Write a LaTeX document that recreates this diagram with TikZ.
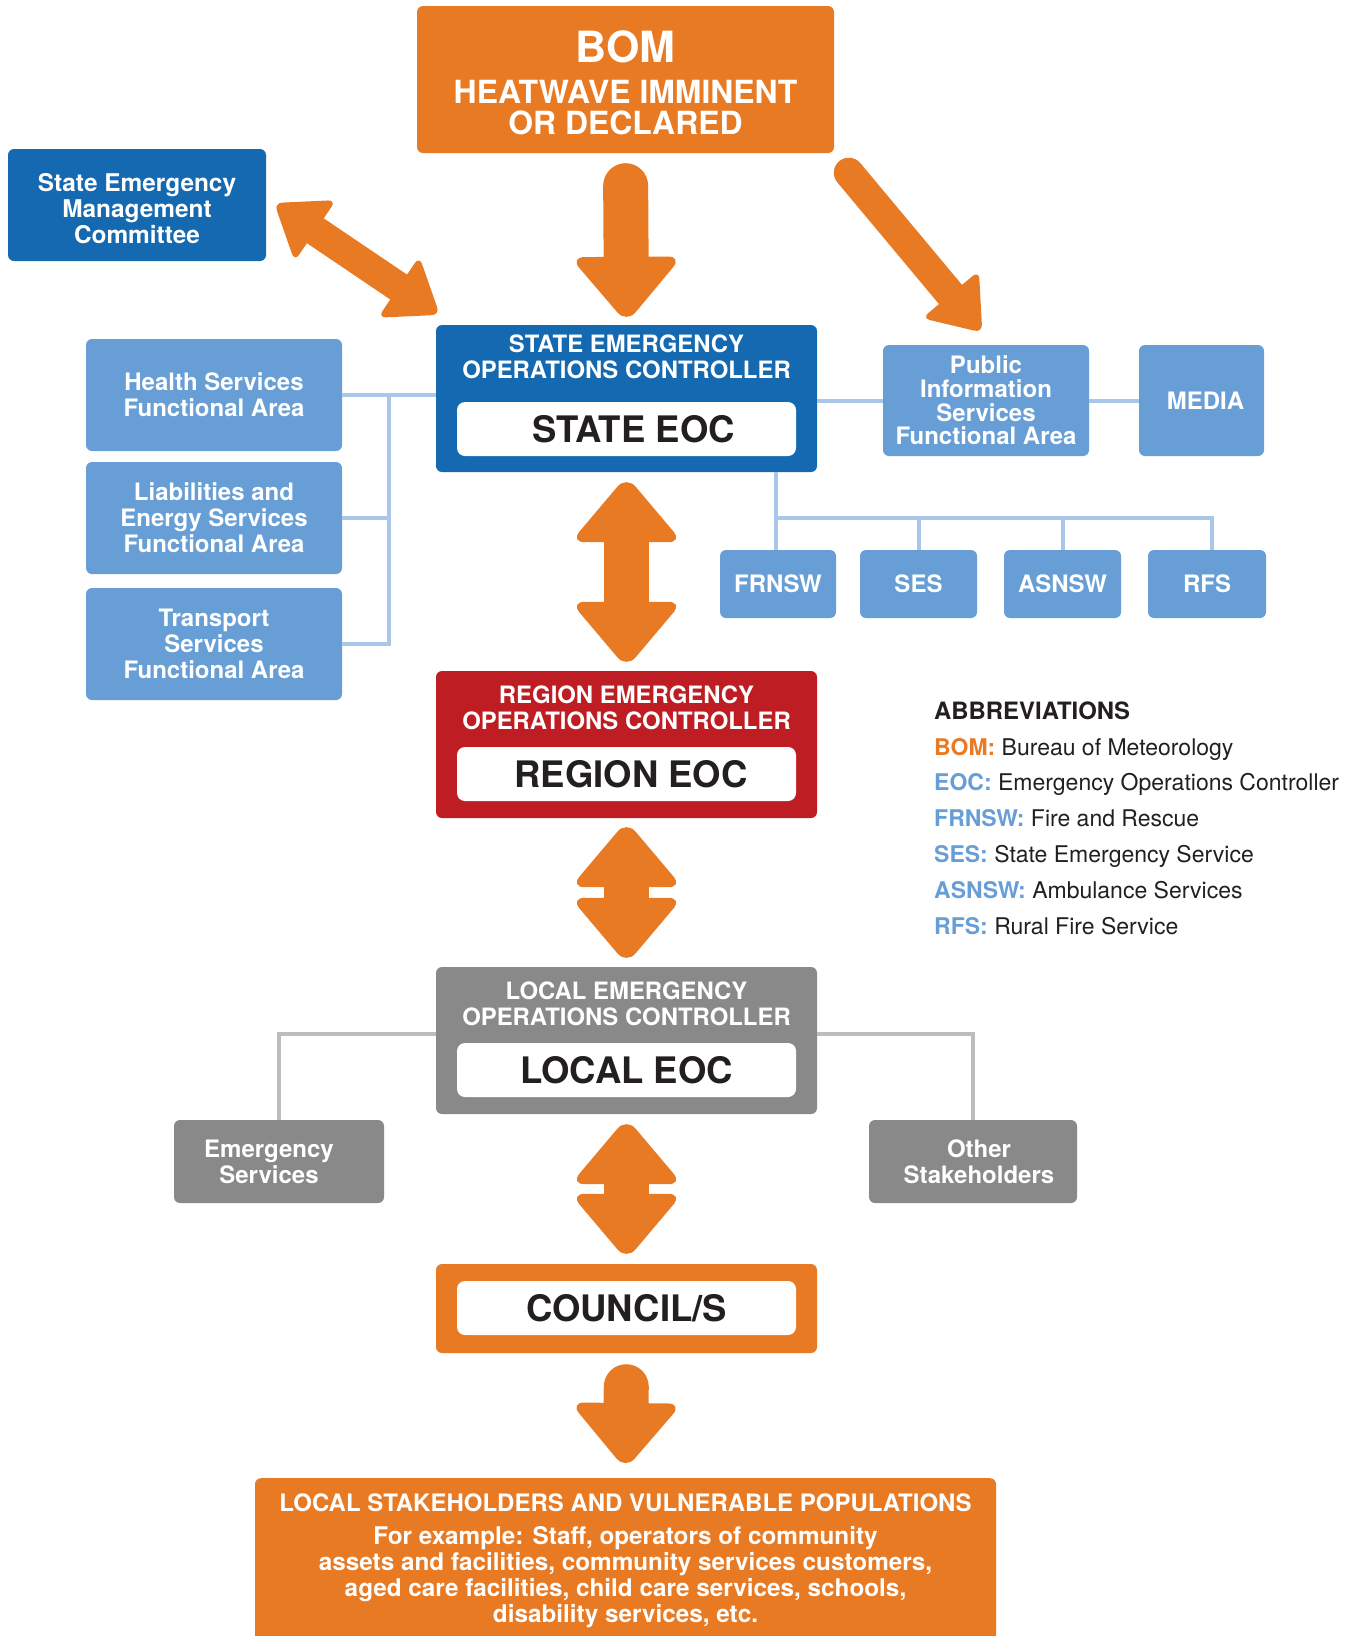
\documentclass[tikz,border=0pt]{standalone}
\usepackage{fontspec}
\setmainfont{TeX Gyre Heros}
\usetikzlibrary{calc}
\definecolor{orng}{HTML}{E87A24}
\definecolor{dblue}{HTML}{1469B0}
\definecolor{lblue}{HTML}{689ED6}
\definecolor{rred}{HTML}{BE1E23}
\definecolor{gbox}{HTML}{898989}
\definecolor{bline}{HTML}{AAC6E8}
\definecolor{gline}{HTML}{BDBDBD}
\definecolor{txt}{HTML}{231F20}
% #1 type (1 single, 2 double), #2 half shaft width, #3 half head width,
% #4 head length, #5 corner radius, #6 from, #7 to
\newcommand\fatarrow[7]{%
  \path (#6); \pgfgetlastxy{\faX}{\faY}%
  \path (#7); \pgfgetlastxy{\fbX}{\fbY}%
  \pgfmathsetmacro\faL{veclen(\fbX-\faX,\fbY-\faY)}%
  \pgfmathsetmacro\faA{atan2(\fbY-\faY,\fbX-\faX)}%
  \pgfmathsetmacro\faT{\faL+0.45*#5}%
  \pgfmathsetmacro\faB{\faL-#4}%
  \pgfmathsetmacro\faW{2*#2}%
  \pgfmathsetmacro\faS{-0.45*#5}%
  \begin{scope}[shift={(\faX,\faY)},rotate=\faA]
    \fill[orng,rounded corners=#5pt] (\faB pt,0pt) -- (\faB pt,#3pt) -- (\faT pt,0pt) -- (\faB pt,-#3pt) -- cycle;
    \ifnum#1=2
      \fill[orng,rounded corners=#5pt] (#4pt,0pt) -- (#4pt,#3pt) -- (\faS pt,0pt) -- (#4pt,-#3pt) -- cycle;
      \draw[orng,line width=\faW pt] (#4pt-2pt,0pt) -- (\faB pt+2pt,0pt);
    \else
      \draw[orng,line width=\faW pt,line cap=round] (#2pt,0pt) -- (\faB pt+2pt,0pt);
    \fi
  \end{scope}%
}
\begin{document}
\begin{tikzpicture}[x=1pt,y=-1pt,
  box/.style={rounded corners=6pt, inner sep=0pt, align=center, text=white,
    font=\bfseries\fontsize{24}{26}\selectfont},
  whitebox/.style={fill=white, rounded corners=8pt, minimum width=339pt, minimum height=54pt,
    inner sep=0pt, font=\bfseries\fontsize{36.5}{40}\selectfont, text=txt},
  title/.style={text=white, align=center, inner sep=0pt, font=\bfseries\fontsize{23.9}{26}\selectfont},
  bconn/.style={draw=bline, line width=4pt},
  gconn/.style={draw=gline, line width=4pt},
  abbr/.style={anchor=base west, inner sep=0pt, text=txt, font=\fontsize{23}{26}\selectfont}]
\useasboundingbox (0,0) rectangle (1359,1636);

% BOM
\node[box, fill=orng, minimum width=417pt, minimum height=147pt] (bom) at (625.5,79.5) {};
\node[title, font=\bfseries\fontsize{43}{44}\selectfont] (bomt) at (625.5,47) {BOM};
\node[title, font=\bfseries\fontsize{31.9}{31}\selectfont] (bomh) at (625.5,107.5) {HEATWAVE IMMINENT\\OR DECLARED};

% State Emergency Management Committee
\node[box, fill=dblue, minimum width=258pt, minimum height=112pt, font=\bfseries\fontsize{24.4}{26}\selectfont] (semc) at (137,205)
  {\rule{0pt}{25pt}State Emergency\\Management\\Committee};

% State EOC
\node[box, fill=dblue, minimum width=381pt, minimum height=147pt] (state) at (626.5,398.5) {};
\node[title] (statet) at (626.5,357) {STATE EMERGENCY\\OPERATIONS CONTROLLER};
\node[whitebox] (stateeoc) at (626.5,429) {\hspace*{14pt}STATE EOC};

% left functional areas
\node[box, fill=lblue, minimum width=256pt, minimum height=112pt] (health) at (214,395) {Health Services\\Functional Area};
\node[box, fill=lblue, minimum width=256pt, minimum height=112pt] (liab) at (214,518) {Liabilities and\\Energy Services\\Functional Area};
\node[box, fill=lblue, minimum width=256pt, minimum height=112pt] (trans) at (214,644) {Transport\\Services\\Functional Area};

% right
\node[box, fill=lblue, minimum width=206pt, minimum height=111pt, font=\bfseries\fontsize{24}{23.7}\selectfont] (pis) at (986,400.5) {Public\\Information\\Services\\Functional Area};
\node[box, fill=lblue, minimum width=125pt, minimum height=111pt] (media) at (1201.5,400.5) {\hspace*{8pt}MEDIA};

\node[box, fill=lblue, minimum width=116pt, minimum height=68pt] (frnsw) at (778,584) {FRNSW};
\node[box, fill=lblue, minimum width=117pt, minimum height=68pt] (ses) at (918.5,584) {SES};
\node[box, fill=lblue, minimum width=117pt, minimum height=68pt] (asnsw) at (1062.5,584) {ASNSW};
\node[box, fill=lblue, minimum width=118pt, minimum height=68pt] (rfs) at (1207,584) {RFS};

% Region EOC
\node[box, fill=rred, minimum width=381pt, minimum height=147pt] (region) at (626.5,744.5) {};
\node[title] (regiont) at (626.5,708) {REGION EMERGENCY\\OPERATIONS CONTROLLER};
\node[whitebox] (regioneoc) at (626.5,774) {\hspace*{9pt}REGION EOC};

% Local EOC
\node[box, fill=gbox, minimum width=381pt, minimum height=147pt] (local) at (626.5,1040.5) {};
\node[title] (localt) at (626.5,1004) {LOCAL EMERGENCY\\OPERATIONS CONTROLLER};
\node[whitebox] (localeoc) at (626.5,1070) {LOCAL EOC};

\node[box, fill=gbox, minimum width=210pt, minimum height=83pt] (es) at (279,1161.5) {Emergency\hspace*{20pt}\\Services\hspace*{20pt}};
\node[box, fill=gbox, minimum width=208pt, minimum height=83pt] (other) at (973,1161.5) {\hspace*{12pt}Other\\\hspace*{12pt}Stakeholders};

% Council
\node[box, fill=orng, minimum width=381pt, minimum height=89pt] (council) at (626.5,1308.5) {};
\node[whitebox] (councilin) at (626.5,1308) {COUNCIL/S};

% bottom box
\node[box, fill=orng, minimum width=741pt, minimum height=190pt, anchor=north] (bottom) at (625.5,1478) {};
\node[title, font=\bfseries\fontsize{24}{26}\selectfont] (bottomt) at (625.5,1503) {LOCAL STAKEHOLDERS AND VULNERABLE POPULATIONS};
\node[title, anchor=north, font=\bfseries\fontsize{24.3}{26}\selectfont] (bottomb) at (625.5,1526.5) {For example: Staff, operators of community\\assets and facilities, community services customers,\\aged care facilities, child care services, schools,\\disability services, etc.};

% abbreviations
\node[abbr, font=\bfseries\fontsize{23.9}{26}\selectfont] (ab0) at (934,719.3) {ABBREVIATIONS};
\node[abbr] (ab1) at (934,755.1) {\textcolor{orng}{\bfseries BOM:} Bureau of Meteorology};
\node[abbr] (ab2) at (934,790.9) {\textcolor{lblue}{\bfseries EOC:} Emergency Operations Controller};
\node[abbr] (ab3) at (934,826.7) {\textcolor{lblue}{\bfseries FRNSW:} Fire and Rescue};
\node[abbr] (ab4) at (934,862.5) {\textcolor{lblue}{\bfseries SES:} State Emergency Service};
\node[abbr] (ab5) at (934,898.3) {\textcolor{lblue}{\bfseries ASNSW:} Ambulance Services};
\node[abbr] (ab6) at (934,934.1) {\textcolor{lblue}{\bfseries RFS:} Rural Fire Service};

% connectors
\coordinate (lbus) at (389,395);
\draw[bconn] (health.east) -- (health.east -| state.west);
\draw[bconn] (liab.east) -- (liab.east -| lbus);
\draw[bconn] (trans.east) -| (lbus);
\draw[bconn] (pis.west -| state.east) -- (pis.west);
\draw[bconn] (pis.east) -- (media.west);
\coordinate (tbus) at (776,518);
\draw[bconn] (tbus |- state.south) -- (tbus |- frnsw.north);
\coordinate (rfsx) at ($(rfs.north)+(5,0)$);
\draw[bconn] (tbus) -| (rfsx);
\draw[bconn] (ses.north) -- (ses.north |- tbus);
\draw[bconn] (asnsw.north) -- (asnsw.north |- tbus);
\coordinate (gy) at (0,1034);
\draw[gconn] (local.west |- gy) -| (es.north);
\draw[gconn] (local.east |- gy) -| (other.north);

% fat arrows
\coordinate (a1s) at ($(bom.south)+(0,10)$);
\coordinate (a1e) at ($(state.north)+(0,-8)$);
\fatarrow{1}{22.5}{56}{60}{14}{a1s}{a1e}
\coordinate (d1s) at ($(state.south)+(0,10)$);
\coordinate (d1e) at ($(region.north)+(0,-9)$);
\fatarrow{2}{22.5}{56}{60}{14}{d1s}{d1e}
\coordinate (d2s) at ($(region.south)+(0,9)$);
\coordinate (d2e) at ($(local.north)+(0,-9)$);
\fatarrow{2}{22.5}{56}{60}{14}{d2s}{d2e}
\coordinate (d3s) at ($(local.south)+(0,10)$);
\coordinate (d3e) at ($(council.north)+(0,-10)$);
\fatarrow{2}{22.5}{56}{60}{14}{d3s}{d3e}
\coordinate (a2s) at ($(council.south)+(0,11)$);
\coordinate (a2e) at ($(bottom.north)+(0,-15)$);
\fatarrow{1}{22.5}{56}{60}{14}{a2s}{a2e}
\coordinate (ds) at ($(semc.east)+(11,0)$);
\coordinate (de) at ($(state.north west)+(1,-12)$);
\fatarrow{2}{15}{37}{46}{8}{ds}{de}
\coordinate (rs) at ($(bom.south east)+(5,8)$);
\coordinate (re) at ($(pis.north)+(-6,-15)$);
\fatarrow{1}{15}{37}{46}{8}{rs}{re}
\end{tikzpicture}
\end{document}
